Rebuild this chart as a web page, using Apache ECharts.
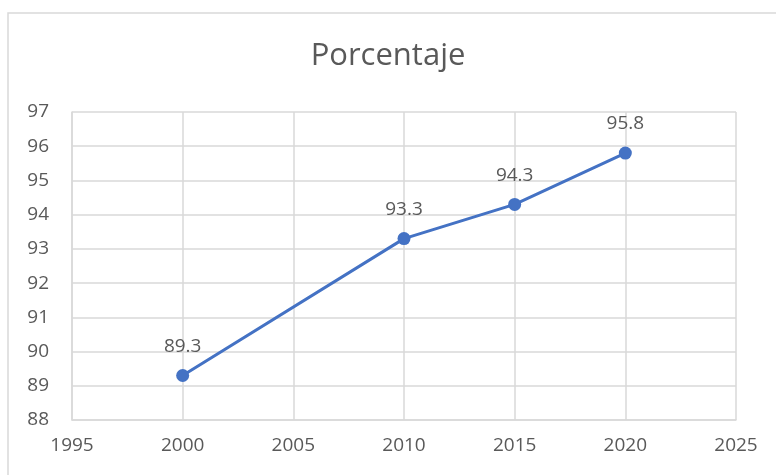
<!DOCTYPE html>
<html>
<head>
<meta charset="utf-8">
<script src="https://cdn.jsdelivr.net/npm/echarts@6/dist/echarts.min.js"></script>
<style>
  html, body { margin: 0; padding: 0; background: #fff; }
  #chart { width: 776px; height: 475px; }
</style>
</head>
<body>
<div id="chart"></div>
<script>
// data
const years = [2000, 2010, 2015, 2020];
const porcentaje = [89.3, 93.3, 94.3, 95.8];
const chartTitle = 'Porcentaje';

const textColor = '#595959';
const font = '"Open Sans", "Noto Sans", sans-serif';

let chart = echarts.init(document.getElementById('chart'));
chart.setOption({
    animation: false,
    title: {
        text: chartTitle,
        left: 'center',
        top: 36,
        textStyle: { fontFamily: font, fontSize: 31, fontWeight: 'normal', color: textColor }
    },
    graphic: [{
        type: 'rect',
        shape: { x: 8, y: 13, width: 800, height: 500 },
        style: { fill: 'none', stroke: '#d9d9d9', lineWidth: 1.5 },
        silent: true
    }],
    grid: { left: 72, right: 40, top: 112, bottom: 55 },
    xAxis: {
        type: 'value',
        min: 1995,
        max: 2025,
        interval: 5,
        axisLine: { show: true, lineStyle: { color: '#d9d9d9', width: 1.5 } },
        axisTick: { show: false },
        splitLine: { show: true, lineStyle: { color: '#d9d9d9', width: 1.5 } },
        axisLabel: {
            color: textColor, fontFamily: font, fontSize: 19, margin: 16,
            formatter: v => String(v)
        }
    },
    yAxis: {
        type: 'value',
        min: 88,
        max: 97,
        interval: 1,
        axisLine: { show: true, lineStyle: { color: '#d9d9d9', width: 1.5 } },
        axisTick: { show: false },
        splitLine: { show: true, lineStyle: { color: '#d9d9d9', width: 1.5 } },
        axisLabel: { color: textColor, fontFamily: font, fontSize: 19, margin: 23 }
    },
    series: [{
        type: 'line',
        data: years.map((y, i) => [y, porcentaje[i]]),
        symbol: 'circle',
        symbolSize: 13,
        itemStyle: { color: '#4472C4' },
        lineStyle: { color: '#4472C4', width: 3 },
        label: {
            show: true,
            position: 'top',
            distance: 13,
            color: textColor,
            fontFamily: font,
            fontSize: 19,
            formatter: p => p.value[1].toFixed(1)
        }
    }]
});
</script>
</body>
</html>
